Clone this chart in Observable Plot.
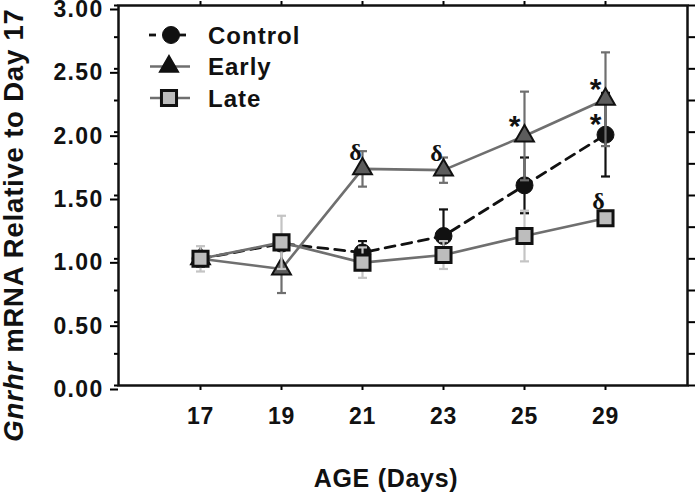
<!DOCTYPE html>
<html><head><meta charset="utf-8">
<script src="https://cdn.jsdelivr.net/npm/d3@7"></script>
<script src="https://cdn.jsdelivr.net/npm/@observablehq/plot@0.6"></script>
<style>body{margin:0;background:#fff}</style>
</head><body><div id="chart"></div>
<script>
// ---- data ----
const days = ["17", "19", "21", "23", "25", "29"];
const controlMean = [1.00, 1.12, 1.05, 1.18, 1.58, 1.98];
const controlErr  = [0.06, 0.00, 0.09, 0.21, 0.22, 0.33];
const earlyMean   = [1.00, 0.92, 1.71, 1.70, 1.97, 2.26];
const earlyErr    = [0.06, 0.19, 0.14, 0.10, 0.35, 0.37];
const lateMean    = [1.00, 1.13, 0.97, 1.03, 1.18, 1.32];
const lateErr     = [0.10, 0.21, 0.12, 0.11, 0.20, 0.00];
const seriesNames = ["Control", "Early", "Late"];
const yTicks = [0, 0.25, 0.5, 0.75, 1, 1.25, 1.5, 1.75, 2, 2.25, 2.5, 2.75, 3];
const yLabelTicks = [0, 0.5, 1, 1.5, 2, 2.5, 3];
const deltaMarks = [{series: "Early", day: "21"}, {series: "Early", day: "23"}, {series: "Late", day: "29"}];
const starMarks  = [{series: "Early", day: "25"}, {series: "Early", day: "29"}, {series: "Control", day: "29"}];

const build = (name, mean, err) => days.map((d, i) => ({series: name, day: d, mean: mean[i], err: err[i]}));
const control = build("Control", controlMean, controlErr);
const early = build("Early", earlyMean, earlyErr);
const late = build("Late", lateMean, lateErr);
const all = [...control, ...early, ...late];
const lookup = (s, d) => all.find(r => r.series === s && r.day === d).mean;

const cap = {draw(ctx) { ctx.moveTo(-4.5, 0); ctx.lineTo(4.5, 0); }};
const FONT = "Liberation Sans, Arial, Helvetica, sans-serif";

function errMarks(data, color) {
  const d = data.filter(r => r.err > 0);
  return [
    Plot.ruleX(d, {x: "day", y1: r => r.mean - r.err, y2: r => r.mean + r.err, stroke: color, strokeWidth: 2.2}),
    Plot.dot(d, {x: "day", y: r => r.mean + r.err, symbol: cap, fill: "none", stroke: color, strokeWidth: 2.2}),
    Plot.dot(d, {x: "day", y: r => r.mean - r.err, symbol: cap, fill: "none", stroke: color, strokeWidth: 2.2})
  ];
}

const chart = Plot.plot({
  width: 696, height: 493,
  marginLeft: 118, marginRight: 9, marginTop: 5, marginBottom: 108,
  style: {fontFamily: FONT, background: "#fff"},
  x: {type: "point", domain: days, padding: 0.97, label: null},
  y: {domain: [0, 3], label: null},
  marks: [
    Plot.axisY({ticks: yLabelTicks, tickSize: 8, tickPadding: 7, strokeWidth: 2, fontSize: 23, fontWeight: "bold", fill: "#111",
      dy: 4, tickFormat: v => v.toFixed(2), label: null}),
    Plot.axisY({ticks: yTicks, tickSize: 4, strokeWidth: 2, tickFormat: () => "", label: null}),
    Plot.axisY({anchor: "right", ticks: yTicks, tickSize: 7, strokeWidth: 2, tickFormat: () => "", label: null}),
    Plot.axisX({anchor: "bottom", tickSize: 5, tickPadding: 17, strokeWidth: 2, fontSize: 23, fontWeight: "bold", fill: "#111", label: null}),
    Plot.axisX({anchor: "top", tickSize: 5, strokeWidth: 2, tickFormat: () => "", label: null}),
    Plot.frame({stroke: "#111", strokeWidth: 2.5}),
    // Control
    ...errMarks(control, "#111"),
    Plot.line(control, {x: "day", y: "mean", stroke: "#111", strokeWidth: 2.8, strokeDasharray: "10,7"}),
    Plot.dot(control, {x: "day", y: "mean", r: 8.5, fill: "#111", stroke: "#111", strokeWidth: 1}),
    // Early
    ...errMarks(early, "#6f6f6f"),
    Plot.line(early, {x: "day", y: "mean", stroke: "#6f6f6f", strokeWidth: 2.6}),
    Plot.dot(early, {x: "day", y: "mean", symbol: "triangle", r: 7, fill: "#5c5c5c", stroke: "#111", strokeWidth: 2}),
    // Late
    ...errMarks(late, "#c4c4c4"),
    Plot.line(late, {x: "day", y: "mean", stroke: "#6f6f6f", strokeWidth: 2.6}),
    Plot.dot(late, {x: "day", y: "mean", symbol: "square", r: 8.5, fill: "#bdbdbd", stroke: "#111", strokeWidth: 3}),
    // significance marks
    Plot.text(deltaMarks, {x: "day", y: r => lookup(r.series, r.day), text: () => "δ", dx: -7, dy: -17,
      fontSize: 24, fontWeight: "bold", fontFamily: "Liberation Serif, serif", fill: "#111"}),
    Plot.text(starMarks, {x: "day", y: r => lookup(r.series, r.day), text: () => "*", dx: -10, dy: -10,
      fontSize: 30, fontWeight: "bold", fontFamily: FONT, fill: "#111"})
  ]
});

const svg = d3.select(chart);
svg.selectAll('[aria-label="y-axis tick label"] text').attr("letter-spacing", 1.3);
svg.selectAll('[aria-label="x-axis tick label"] text').attr("letter-spacing", 0.6);

// Y-axis title
const yt = svg.append("text")
  .attr("transform", "translate(23,225) rotate(-90)")
  .attr("text-anchor", "middle").attr("letter-spacing", 0.8)
  .attr("font-family", FONT).attr("font-size", 27.5).attr("font-weight", "bold").attr("fill", "#111");
yt.append("tspan").attr("font-style", "italic").text("Gnrhr");
yt.append("tspan").text(" mRNA Relative to Day 17");
// X-axis title
svg.append("text").attr("x", 386).attr("y", 487).attr("text-anchor", "middle").attr("letter-spacing", 0.7)
  .attr("font-family", FONT).attr("font-size", 25).attr("font-weight", "bold").attr("fill", "#111")
  .text("AGE (Days)");

// Legend
const legendStyles = {
  Control: {line: "#111", dash: true, symbol: d3.symbolCircle, fill: "#111", sw: 1, size: Math.PI * 8.5 * 8.5},
  Early: {line: "#6f6f6f", dash: false, symbol: d3.symbolTriangle, fill: "#111", sw: 1.5, size: Math.PI * 7 * 7},
  Late: {line: "#6f6f6f", dash: false, symbol: d3.symbolSquare, fill: "#bdbdbd", sw: 3, size: Math.PI * 8.5 * 8.5}
};
const lg = svg.append("g").attr("transform", "translate(149,35)");
seriesNames.forEach((name, i) => {
  const s = legendStyles[name];
  const g = lg.append("g").attr("transform", `translate(0,${i * 31.5})`);
  if (s.dash) {
    g.append("line").attr("x1", 0).attr("x2", 7).attr("stroke", s.line).attr("stroke-width", 2.8);
    g.append("line").attr("x1", 30).attr("x2", 37).attr("stroke", s.line).attr("stroke-width", 2.8);
  } else {
    g.append("line").attr("x1", 1).attr("x2", 41).attr("stroke", s.line).attr("stroke-width", 2.6);
  }
  g.append("path").attr("transform", `translate(${name === "Control" ? 22 : 20},0)`).attr("d", d3.symbol(s.symbol, s.size)())
    .attr("fill", s.fill).attr("stroke", "#111").attr("stroke-width", s.sw);
  g.append("text").attr("x", 59).attr("dy", "0.36em").attr("text-anchor", "start").attr("letter-spacing", 1)
    .attr("font-family", FONT).attr("font-size", 24).attr("font-weight", "bold").attr("fill", "#111")
    .text(name);
});

document.getElementById("chart").appendChild(chart);
</script>
</body></html>
